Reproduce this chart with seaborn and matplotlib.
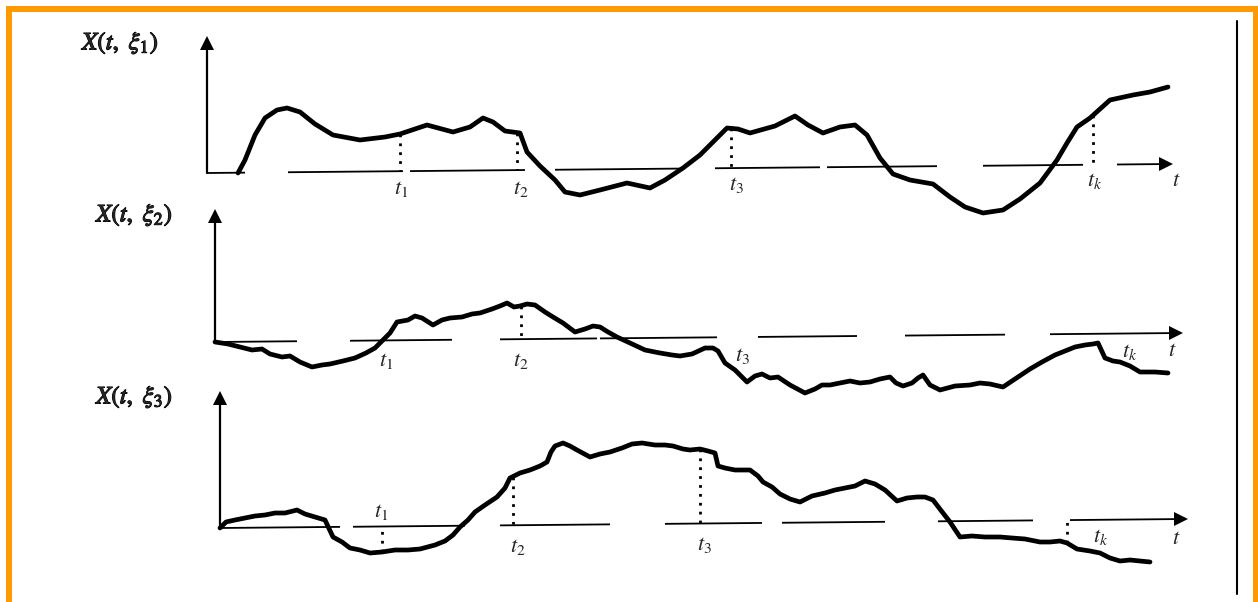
#!/usr/bin/env python3
"""Three sample functions X(t, xi_i) of a random process, redrawn from a scanned figure."""

import matplotlib

matplotlib.use("Agg")
import matplotlib.patheffects as pe
import matplotlib.pyplot as plt
import numpy as np
import seaborn as sns
from matplotlib.patches import Rectangle

# --- sample path 1 (smooth) ---
path1_x = [238, 245, 255, 265, 277, 287, 300, 315, 333, 360, 385, 400, 427, 453, 470, 483, 493,
           505, 520, 527, 540, 555, 565, 580, 600, 627, 650, 665, 683, 700, 715, 727, 738, 750,
           775, 795, 808, 823, 840, 855, 867, 880, 893, 910, 933, 950, 965, 983, 1003, 1020,
           1040, 1057, 1067, 1077, 1090, 1110, 1133, 1150, 1168]
path1_y = [173, 160, 135, 118, 110, 108, 112, 124, 135, 140, 137, 134, 125, 132, 127, 118, 122,
           131, 133, 152, 166, 180, 192, 195, 190, 183, 188, 180, 168, 155, 140, 128, 129, 133,
           126, 116, 125, 133, 127, 125, 135, 158, 174, 180, 184, 197, 207, 213, 210, 199,
           183, 160, 143, 127, 118, 100, 95, 92, 87]

# --- sample path 2 (rough) ---
path2_x = [215, 228, 240, 252, 262, 270, 282, 290, 300, 312, 322, 330, 343, 355, 366, 375, 383,
           390, 397, 408, 415, 422, 433, 442, 450, 462, 472, 480, 492, 500, 507, 514, 520, 527,
           535, 545, 553, 563, 575, 585, 593, 600, 608, 617, 630, 645, 660, 672, 680, 692, 705,
           713, 718, 725, 735, 747, 755, 762, 770, 778, 790, 805, 815, 822, 830, 840, 850, 860,
           870, 880, 890, 896, 903, 912, 918, 923, 930, 940, 955, 970, 980, 990, 1003, 1015,
           1030, 1042, 1055, 1065, 1075, 1085, 1093, 1098, 1105, 1113, 1120, 1130, 1140, 1155,
           1168]
path2_y = [342, 344, 347, 350, 349, 354, 357, 356, 362, 367, 365, 364, 361, 358, 353, 348, 340,
           333, 322, 320, 316, 318, 325, 320, 318, 317, 314, 313, 309, 306, 303, 307, 306, 304,
           305, 312, 317, 323, 332, 329, 326, 327, 332, 337, 343, 350, 353, 355, 356, 354, 348,
           348, 351, 363, 370, 382, 376, 374, 378, 377, 385, 393, 389, 385, 385, 383, 381, 383,
           382, 379, 377, 383, 386, 383, 378, 375, 385, 390, 386, 385, 383, 384, 387, 379,
           369, 362, 355, 351, 347, 345, 344, 343, 358, 361, 362, 366, 372, 372, 373]

# --- sample path 3 (rough) ---
path3_x = [220, 226, 235, 245, 255, 265, 275, 285, 297, 305, 315, 325, 333, 342, 350, 360, 370,
           382, 395, 408, 420, 435, 445, 453, 460, 468, 475, 485, 497, 505, 510, 520, 530, 540,
           547, 551, 555, 563, 570, 577, 590, 600, 610, 622, 632, 642, 655, 665, 673, 683, 690,
           700, 708, 715, 718, 725, 735, 750, 758, 763, 772, 780, 790, 800, 812, 825, 835, 845,
           855, 865, 875, 885, 897, 907, 917, 925, 933, 943, 950, 960, 972, 985, 1000, 1012,
           1025, 1040, 1050, 1060, 1067, 1077, 1090, 1100, 1110, 1120, 1130, 1140, 1150]
path3_y = [528, 522, 520, 518, 516, 515, 513, 513, 510, 514, 517, 520, 537, 542, 548, 550, 553,
           552, 550, 550, 549, 545, 541, 535, 527, 520, 512, 505, 497, 488, 478, 473, 470, 466,
           462, 452, 446, 443, 446, 450, 457, 454, 452, 448, 444, 443, 445, 445, 446, 449, 450,
           449, 451, 453, 466, 468, 470, 470, 476, 482, 487, 494, 499, 502, 496, 493, 490, 488,
           486, 481, 484, 490, 501, 498, 497, 497, 500, 513, 522, 537, 536, 537, 537, 538,
           539, 542, 542, 541, 543, 549, 551, 553, 558, 561, 560, 561, 562]

# baselines: (x_left, y_left, x_right, y_right) of each slightly tilted time axis
axis1 = (207, 173, 1170, 164)
axis2 = (215, 342, 1180, 333)
axis3 = (220, 528, 1185, 519)

# broken pieces of each time axis, as x ranges
pieces1 = [(207, 245), (288, 403), (410, 525), (555, 680), (715, 820), (827, 937), (983, 1083),
           (1117, 1170)]
pieces2 = [(215, 297), (350, 452), (500, 597), (600, 717), (758, 857), (905, 1005), (1050, 1180)]
pieces3 = [(220, 340), (353, 465), (500, 610), (665, 762), (782, 885), (938, 1033), (1070, 1185)]

# y-axis x position and top end
yaxis1 = (207, 45)
yaxis2 = (215, 218)
yaxis3 = (220, 400)

# sample times where a dotted drop line is drawn
drops1 = [400, 517, 731, 1093]
drops2 = [521]
drops3 = [382, 513, 700, 1067]

# labels
ylabel1 = r"$X(t,\ \xi_1)$"
ylabel2 = r"$X(t,\ \xi_2)$"
ylabel3 = r"$X(t,\ \xi_3)$"
tick_text = [r"$t_1$", r"$t_2$", r"$t_3$", r"$t_k$", r"$t$"]
ticks1 = [(401, 189), (521, 189), (736, 185), (1095, 181), (1176, 182)]
ticks2 = [(386, 361), (521, 361), (742, 356), (1130, 352), (1172, 352)]
ticks3 = [(381, 512), (518, 547), (704, 545), (1101, 537), (1176, 540)]


def base_y(axis, x):
    x0, y0, x1, y1 = axis
    return y0 + (y1 - y0) * (np.asarray(x, dtype=float) - x0) / (x1 - x0)


def draw_panel(ax, px, py, axis, pieces, yaxis, drops, ylabel, ylabel_xy, ticks):
    # broken time axis
    for a, b in pieces:
        ax.plot([a, b], base_y(axis, [a, b]), color="black", lw=1.3, solid_capstyle="butt")
    end_x = pieces[-1][1]
    ax.plot([end_x - 4], [base_y(axis, end_x - 4)], marker=">", ms=10, color="black", mew=0)

    # vertical axis with arrow
    yx, ytop = yaxis
    ax.plot([yx, yx], [axis[1], ytop], color="black", lw=1.6)
    ax.plot([yx], [ytop - 2], marker="^", ms=10, color="black", mew=0)

    # sample path
    sns.lineplot(x=px, y=py, sort=False, estimator=None, color="black", lw=3.4, ax=ax)

    # dotted drop lines at sampling instants
    for t in drops:
        ax.plot([t, t], [np.interp(t, px, py), base_y(axis, t)], color="black", lw=2,
                ls=(0, (1, 2.2)))

    ax.text(*ylabel_xy, ylabel, fontsize=18, ha="left", va="center",
            path_effects=[pe.withStroke(linewidth=0.8, foreground="black")])
    for (x, y), s in zip(ticks, tick_text):
        ax.text(x, y, s, fontsize=16, ha="center", va="center")


sns.set_theme(style="white")
plt.rcParams["mathtext.fontset"] = "stix"
plt.rcParams["font.family"] = ["Liberation Serif", "DejaVu Serif"]

fig = plt.figure(figsize=(12.58, 6.02), dpi=100)
ax = fig.add_axes([0, 0, 1, 1])
ax.set_xlim(0, 1258)
ax.set_ylim(602, 0)
ax.axis("off")

draw_panel(ax, path1_x, path1_y, axis1, pieces1, yaxis1, drops1, ylabel1, (82, 43), ticks1)
draw_panel(ax, path2_x, path2_y, axis2, pieces2, yaxis2, drops2, ylabel2, (96, 215), ticks2)
draw_panel(ax, path3_x, path3_y, axis3, pieces3, yaxis3, drops3, ylabel3, (96, 397), ticks3)

# orange frame and the black edge line of the scanned page
orange = "#ff9a00"
ax.add_patch(Rectangle((6, 6), 1252, 6, color=orange, lw=0))
ax.add_patch(Rectangle((6, 6), 6, 596, color=orange, lw=0))
ax.add_patch(Rectangle((1253, 6), 5, 596, color=orange, lw=0))
ax.plot([1237, 1237], [21, 594], color="black", lw=1.5)

fig.savefig("out.png", dpi=100)
